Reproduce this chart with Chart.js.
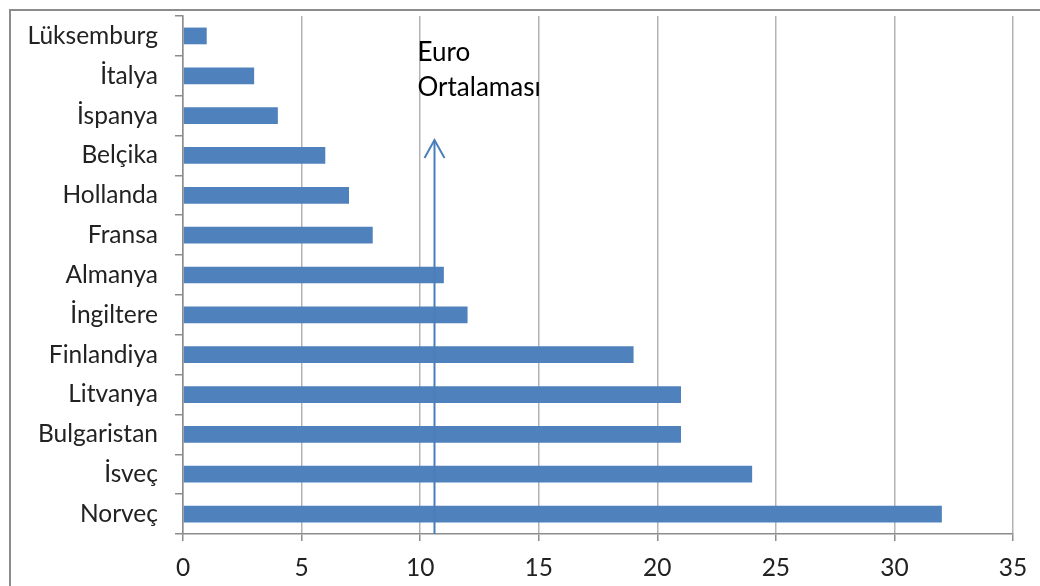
<!DOCTYPE html>
<html>
<head>
<meta charset="utf-8">
<script src="https://cdn.jsdelivr.net/npm/chart.js@4/dist/chart.umd.min.js"></script>
<style>
  html, body { margin: 0; padding: 0; background: #fff; overflow: hidden; }
  #wrap { position: relative; width: 1040px; height: 586px; }
  #frame { position: absolute; left: 9px; top: 9px; width: 1200px; height: 800px;
           border: 2px solid #8c8c8c; box-sizing: border-box; pointer-events: none; }
  canvas { position: absolute; left: 0; top: 0; }
</style>
</head>
<body>
<div id="wrap">
  <div id="frame"></div>
  <canvas id="c" width="1040" height="586"></canvas>
</div>
<script>
// Countries, top to bottom
const countries = ['Lüksemburg', 'İtalya', 'İspanya', 'Belçika', 'Hollanda', 'Fransa',
  'Almanya', 'İngiltere', 'Finlandiya', 'Litvanya', 'Bulgaristan', 'İsveç', 'Norveç'];
const values = [1, 3, 4, 6, 7, 8, 11, 12, 19, 21, 21, 24, 32];
const euroAverage = 10.6;
const averageLabel = ['Euro', 'Ortalaması'];
const xMin = 0, xMax = 35, xStep = 5;

const FONT = 'Lato, "Open Sans", sans-serif';

// Arrow marking the euro average, with its caption
const averageArrow = {
  id: 'averageArrow',
  afterDatasetsDraw(chart) {
    const { ctx, chartArea, scales } = chart;
    const x = Math.round(scales.x.getPixelForValue(euroAverage)) + 0.5;
    const tipY = 140;
    ctx.save();
    ctx.strokeStyle = '#4a7ebb';
    ctx.lineWidth = 2;
    ctx.beginPath();
    ctx.moveTo(x, chartArea.bottom);
    ctx.lineTo(x, tipY);
    ctx.stroke();
    ctx.beginPath();
    ctx.moveTo(x - 10, tipY + 18);
    ctx.lineTo(x, tipY);
    ctx.lineTo(x + 10, tipY + 18);
    ctx.stroke();
    ctx.fillStyle = '#000';
    ctx.font = '26px ' + FONT;
    ctx.textAlign = 'left';
    ctx.textBaseline = 'alphabetic';
    ctx.fillText(averageLabel[0], x - 17, 61);
    ctx.fillText(averageLabel[1], x - 17, 96);
    ctx.restore();
  }
};

new Chart(document.getElementById('c'), {
  type: 'bar',
  data: {
    labels: countries,
    datasets: [{
      data: values,
      backgroundColor: '#4f81bd',
      borderWidth: 0,
      categoryPercentage: 1,
      barPercentage: 0.42
    }]
  },
  options: {
    indexAxis: 'y',
    responsive: false,
    animation: false,
    devicePixelRatio: 1,
    layout: { padding: { top: 16, right: 27, left: 0, bottom: 0 } },
    plugins: { legend: { display: false }, tooltip: { enabled: false } },
    scales: {
      x: {
        min: xMin, max: xMax,
        ticks: { stepSize: xStep, color: '#222', font: { family: FONT, size: 24.5 }, padding: 12 },
        grid: { color: '#b3b3b3', lineWidth: 1.5, tickLength: 7, tickColor: '#8c8c8c' },
        border: { color: '#8c8c8c', width: 1.5 },
        afterFit(s) { s.height = 52; s.paddingLeft = 0; s.paddingRight = 0; }
      },
      y: {
        ticks: { color: '#222', font: { family: FONT, size: 24.5 }, padding: 17 },
        grid: { drawOnChartArea: false, tickLength: 8, color: '#8c8c8c', lineWidth: 1.5, offset: true },
        border: { color: '#8c8c8c', width: 1.5 },
        afterFit(s) { s.width = 183; s.paddingTop = 0; s.paddingBottom = 0; }
      }
    }
  },
  plugins: [averageArrow]
});
</script>
</body>
</html>
